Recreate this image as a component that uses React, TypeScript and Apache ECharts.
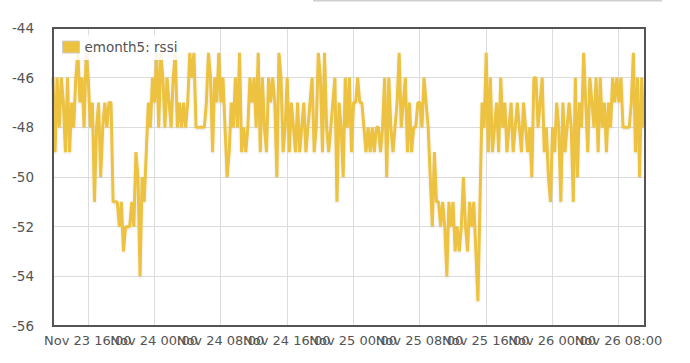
import { useEffect, useRef } from "react";
import * as echarts from "echarts";

const seriesName = "emonth5: rssi";
// hours since Nov 23 00:00
const startHour = 11.8;
const stepHours = 0.25;
const xMin = 11.8;
const xMax = 83.2;
const xTicks = [16, 24, 32, 40, 48, 56, 64, 72, 80];
const yMin = -56;
const yMax = -44;
const yStep = 2;

const rssi = [
  -46, -49, -46, -48, -46, -47, -49, -46, -49, -47,
  -48, -46, -45, -47, -46, -48, -45, -46, -48, -47,
  -51, -48, -47, -50, -48, -47, -48, -47, -47, -51,
  -51, -51, -52, -51, -53, -52, -52, -52, -51, -52,
  -49, -50, -54, -50, -51, -49, -47, -48, -46, -47,
  -45, -48, -45, -46, -48, -46, -47, -48, -46, -45,
  -48, -47, -48, -47, -48, -47, -45, -46, -45, -48,
  -48, -48, -48, -48, -47, -45, -46, -49, -46, -47,
  -45, -47, -46, -48, -50, -49, -47, -48, -46, -48,
  -45, -49, -48, -49, -48, -46, -47, -46, -48, -45,
  -49, -46, -48, -49, -46, -47, -46, -47, -50, -45,
  -46, -49, -48, -46, -49, -47, -48, -49, -47, -49,
  -48, -47, -49, -48, -47, -46, -49, -48, -45, -46,
  -49, -45, -48, -49, -48, -47, -46, -51, -47, -48,
  -50, -46, -48, -46, -49, -47, -47, -46, -47, -47,
  -48, -49, -48, -49, -48, -49, -48, -48, -49, -48,
  -46, -50, -46, -48, -49, -48, -47, -45, -48, -47,
  -46, -49, -47, -49, -48, -48, -47, -47, -48, -46,
  -47, -48, -50, -52, -49, -51, -51, -52, -51, -52,
  -54, -51, -52, -51, -53, -52, -53, -52, -50, -52,
  -53, -51, -52, -51, -53, -55, -51, -47, -48, -45,
  -49, -46, -49, -48, -47, -49, -46, -48, -47, -49,
  -48, -47, -49, -48, -47, -48, -49, -47, -48, -49,
  -48, -50, -46, -46, -48, -47, -46, -49, -48, -50,
  -51, -48, -49, -47, -48, -51, -47, -49, -48, -47,
  -48, -51, -46, -50, -47, -48, -45, -47, -49, -46,
  -47, -48, -46, -49, -46, -48, -47, -49, -47, -48,
  -46, -47, -46, -47, -46, -48, -48, -48, -48, -47,
  -45, -49, -46, -50, -46, -48,
];

function fmtHour(h: number): string {
  const day = 23 + Math.floor(h / 24);
  const hh = Math.round(h % 24);
  return `Nov ${day} ${String(hh).padStart(2, "0")}:00`;
}

const FONT = "DejaVu Sans";
const TEXT = "#545454";

const labelsA = xTicks.filter((_, i) => i % 2 === 0);
const labelsB = xTicks.filter((_, i) => i % 2 === 1);

const baseLabel = {
  color: TEXT,
  fontSize: 13,
  fontFamily: FONT,
  margin: 8,
  showMinLabel: true,
  showMaxLabel: true,
  formatter: (v: number) => fmtHour(v),
};

export default function App() {
  const ref = useRef<HTMLDivElement>(null);
  useEffect(() => {
    if (!ref.current) return;
    const chart = echarts.init(ref.current, null, { renderer: "svg" });
    const data = rssi.map((v, i) => [startHour + i * stepHours, v]);
    chart.setOption({
      animation: false,
      backgroundColor: "#ffffff",
      textStyle: { fontFamily: FONT },
      grid: {
        show: true,
        left: 53,
        right: 45,
        top: 28,
        bottom: 37,
        borderColor: "#545454",
        borderWidth: 2,
        backgroundColor: "transparent",
        z: 3,
      },
      legend: {
        show: true,
        left: 58,
        top: 35,
        padding: [5, 2, 6, 4],
        backgroundColor: "rgba(255,255,255,0.85)",
        icon: "rect",
        itemWidth: 17,
        itemHeight: 12,
        itemStyle: { color: "#edc240", borderColor: "#cccccc", borderWidth: 1 },
        textStyle: { color: TEXT, fontSize: 13.5, fontFamily: FONT },
        data: [seriesName],
      },
      xAxis: [
        {
          type: "value",
          position: "bottom",
          min: xMin,
          max: xMax,
          axisLine: { show: false },
          axisTick: { show: false, customValues: xTicks },
          axisLabel: { ...baseLabel, customValues: labelsA },
          splitLine: { show: true, lineStyle: { color: "#dcdcdc", width: 1 } },
        },
        {
          type: "value",
          position: "bottom",
          offset: 0,
          min: xMin,
          max: xMax,
          axisLine: { show: false },
          axisTick: { show: false, customValues: labelsB },
          axisLabel: { ...baseLabel, customValues: labelsB },
          splitLine: { show: false },
        },
      ],
      yAxis: {
        type: "value",
        min: yMin,
        max: yMax,
        interval: yStep,
        axisLine: { show: false },
        axisTick: { show: false },
        axisLabel: { color: TEXT, fontSize: 13.5, fontFamily: FONT, margin: 19 },
        splitLine: { show: true, lineStyle: { color: "#dcdcdc", width: 1 } },
      },
      series: [
        {
          name: seriesName,
          type: "line",
          xAxisIndex: 0,
          data,
          showSymbol: false,
          symbol: "none",
          color: "#edc240",
          lineStyle: {
            color: "#edc240",
            width: 3,
            shadowColor: "rgba(0,0,0,0.12)",
            shadowBlur: 2,
            shadowOffsetY: 1,
          },
          z: 2,
        },
      ],
      graphic: [
        {
          type: "rect",
          left: 313,
          top: 0,
          shape: { width: 349, height: 1.5 },
          style: { fill: "#cfcfcf" },
        },
      ],
    });
    return () => chart.dispose();
  }, []);
  return (
    <div
      ref={ref}
      style={{ position: "fixed", left: 0, top: 0, width: 690, height: 363 }}
    />
  );
}
